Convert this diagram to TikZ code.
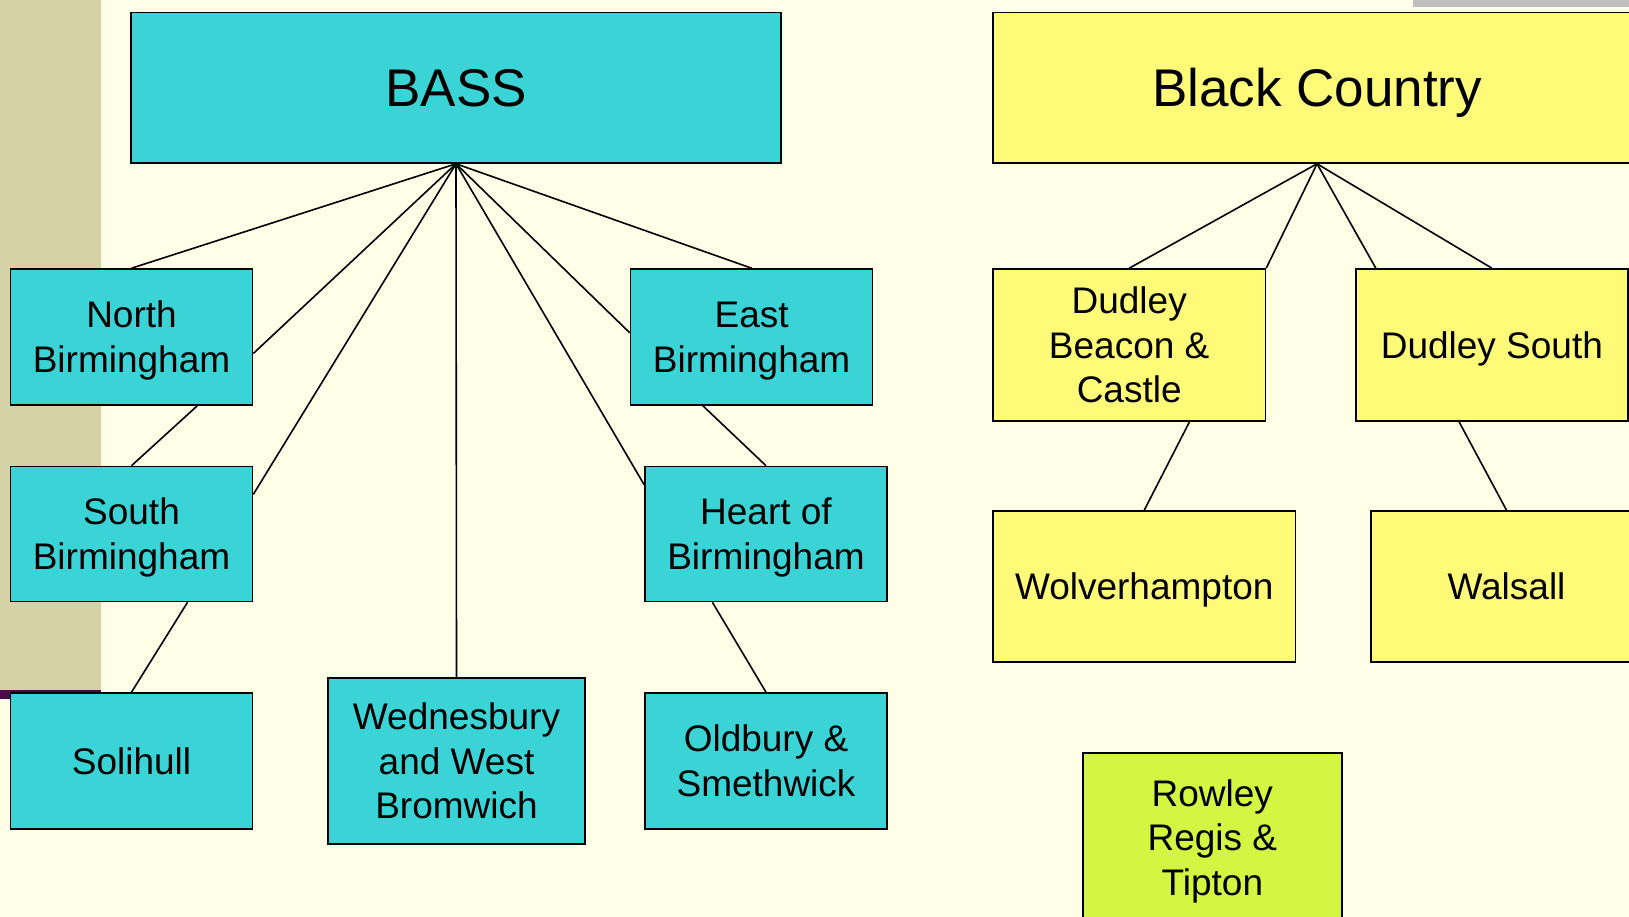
\documentclass[tikz,border=0pt]{standalone}
\usepackage{fontspec}
\setmainfont{Liberation Sans}
\usetikzlibrary{calc}
\definecolor{bgcream}{HTML}{FFFEE6}
\definecolor{strip}{HTML}{D6D2A8}
\definecolor{stripline}{HTML}{4B0A4B}
\definecolor{graybar}{HTML}{BFBFBF}
\definecolor{cyanbox}{HTML}{3AD4D6}
\definecolor{yelbox}{HTML}{FFFA78}
\definecolor{grnbox}{HTML}{D4F542}
\newcommand\boxlines[1]{\begin{tabular}{@{}c@{}}#1\end{tabular}}
\tikzset{
  box/.style={draw=black, line width=1.6pt, rectangle, inner sep=0pt,
    font=\fontsize{37}{44.6}\selectfont\setbox\strutbox\hbox{\vrule height35.55pt depth9.05pt width0pt}},
  cbox/.style={box, fill=cyanbox},
  ybox/.style={box, fill=yelbox},
  gbox/.style={box, fill=grnbox},
  big/.style={font=\fontsize{53}{62}\selectfont\setbox\strutbox\hbox{\vrule height49.95pt depth12.05pt width0pt}},
  link/.style={draw=black, line width=1.6pt}
}
\begin{document}
\begin{tikzpicture}[x=1pt,y=-1pt]
\useasboundingbox (0,0) rectangle (1629,917);
\clip (0,0) rectangle (1629,917);
\fill[bgcream] (0,0) rectangle (1629,917);
\fill[strip] (0,0) rectangle (101,690);
\fill[stripline] (0,690) rectangle (101,693);
\fill[stripline] (0,690) rectangle (10,699);
\fill[graybar] (1413,0) rectangle (1629,7);

% BASS side
\node[cbox, big, minimum width=650pt, minimum height=150.5pt] (bass) at (456,87.75) {\boxlines{BASS}};
\node[cbox, minimum width=242pt, minimum height=136pt] (nb) at (131.5,337) {\boxlines{North\\Birmingham}};
\node[cbox, minimum width=242pt, minimum height=135pt] (sb) at (131.5,534) {\boxlines{South\\Birmingham}};
\node[cbox, minimum width=242pt, minimum height=136pt] (sol) at (131.5,761) {\boxlines{Solihull}};
\node[cbox, minimum width=257pt, minimum height=166pt] (wed) at (456.5,761) {\boxlines{Wednesbury\\and West\\Bromwich}};
\node[cbox, minimum width=242pt, minimum height=136pt] (eb) at (751.6,337) {\boxlines{East\\Birmingham}};
\node[cbox, minimum width=242pt, minimum height=135pt] (hb) at (766,534) {\boxlines{Heart of\\Birmingham}};
\node[cbox, minimum width=242pt, minimum height=136pt] (os) at (766,761) {\boxlines{Oldbury \&\\Smethwick}};

% Black Country side
\node[ybox, big, minimum width=648pt, minimum height=150.5pt] (bc) at (1317,87.75) {\boxlines{Black Country}};
\node[ybox, minimum width=272.4pt, minimum height=152pt] (db) at (1129.2,345) {\boxlines{Dudley\\Beacon \&\\Castle}};
\node[ybox, minimum width=272.2pt, minimum height=152pt] (ds) at (1491.9,345) {\boxlines{Dudley South}};
\node[ybox, minimum width=302.5pt, minimum height=151pt] (wo) at (1144.25,586.5) {\boxlines{Wolverhampton}};
\node[ybox, minimum width=271pt, minimum height=151pt] (wa) at (1506.5,586.5) {\boxlines{Walsall}};
\node[gbox, minimum width=258.7pt, minimum height=216pt] (rr) at (1212.35,860.7) {};
\node[box, draw=none, fill=none] (rrt) at (1212.35,837.4) {\boxlines{Rowley\\Regis \&\\Tipton}};

% connectors BASS
\draw[link] (bass.south) -- (nb.north);
\draw[link] (bass.south) -- ($(nb.north east)!0.62!(nb.south east)$);
\draw[link] (bass.south) -- ($(sb.north east)!0.21!(sb.south east)$);
\draw[link] (bass.south) -- (wed.north);
\draw[link] (bass.south) -- ($(hb.north west)!0.14!(hb.south west)$);
\draw[link] (bass.south) -- ($(eb.north west)!0.47!(eb.south west)$);
\draw[link] (bass.south) -- (eb.north);
\draw[link] ($(nb.south west)!0.77!(nb.south east)$) -- (sb.north);
\draw[link] ($(sb.south west)!0.73!(sb.south east)$) -- (sol.north);
\draw[link] ($(eb.south west)!0.30!(eb.south east)$) -- (hb.north);
\draw[link] ($(hb.south west)!0.28!(hb.south east)$) -- (os.north);

% connectors Black Country
\draw[link] (bc.south) -- (db.north);
\draw[link] (bc.south) -- (db.north east);
\draw[link] (bc.south) -- ($(ds.north west)!0.076!(ds.north east)$);
\draw[link] (bc.south) -- (ds.north);
\draw[link] ($(db.south west)!0.72!(db.south east)$) -- (wo.north);
\draw[link] ($(ds.south west)!0.38!(ds.south east)$) -- (wa.north);
\end{tikzpicture}
\end{document}
